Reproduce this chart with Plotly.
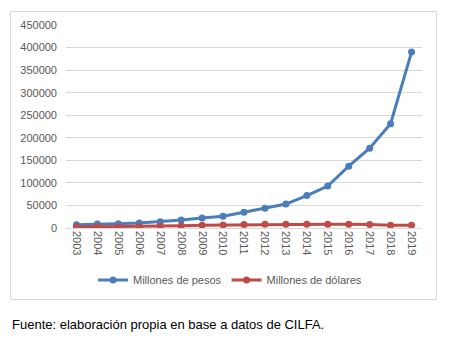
import plotly.graph_objects as go

years = [str(y) for y in range(2003, 2020)]
pesos = [7000, 9000, 9500, 11000, 14000, 18000, 22000, 26000, 35000, 44000,
         53000, 72000, 93000, 137000, 177000, 231000, 390000]
dolares = [2300, 2600, 2800, 3000, 4200, 4800, 6000, 6500, 8000, 8300,
           8300, 8300, 8300, 8300, 8000, 6000, 6000]

W, H = 450, 346
L, R, T, B = 66, 28, 25, 118
pw, ph = W - L - R, H - T - B

def px_x(x):
    return (x - L) / pw

def px_y(y):
    return (H - B - y) / ph

font = "Liberation Sans"
fig = go.Figure()
fig.add_trace(go.Scatter(x=years, y=pesos, name="Millones de pesos", mode="lines+markers",
                         line=dict(color="#4a7ebb", width=3), marker=dict(size=7, color="#4a7ebb")))
fig.add_trace(go.Scatter(x=years, y=dolares, name="Millones de dólares", mode="lines+markers",
                         line=dict(color="#be4b48", width=3), marker=dict(size=7, color="#be4b48")))

fig.update_layout(
    width=W, height=H,
    margin=dict(l=L, r=R, t=T, b=B, autoexpand=False),
    paper_bgcolor="white", plot_bgcolor="white",
    font=dict(family=font, size=11, color="#595959"),
    showlegend=True,
    legend=dict(orientation="h", x=px_x(93), y=px_y(280), xanchor="left", yanchor="middle",
                font=dict(size=11, color="#595959"), itemwidth=30, bgcolor="rgba(0,0,0,0)"),
    xaxis=dict(type="category", tickangle=90, showgrid=False, showline=False, ticks="",
               automargin=False, ticklabelstandoff=2, range=[-0.5, len(years) - 0.5],
               tickfont=dict(size=11, color="#595959")),
    yaxis=dict(range=[0, 450000], dtick=50000, tickformat="d", showgrid=True,
               gridcolor="#d9d9d9", gridwidth=1, zeroline=True, zerolinecolor="#d9d9d9",
               zerolinewidth=1, showline=False, ticks="", ticklabelstandoff=8,
               automargin=False,
               tickfont=dict(size=11, color="#595959")),
    shapes=[dict(type="rect", xref="paper", yref="paper",
                 x0=px_x(10.5), x1=px_x(436.5), y0=px_y(299.5), y1=px_y(11.5),
                 line=dict(color="#d9d9d9", width=1), fillcolor="rgba(0,0,0,0)", layer="below")],
    annotations=[dict(text="Fuente: elaboración propia en base a datos de CILFA.",
                      xref="paper", yref="paper", x=px_x(10), y=px_y(324),
                      xanchor="left", yanchor="middle", showarrow=False,
                      font=dict(family=font, size=13, color="#000000"))],
)

fig.write_html("out.html")
